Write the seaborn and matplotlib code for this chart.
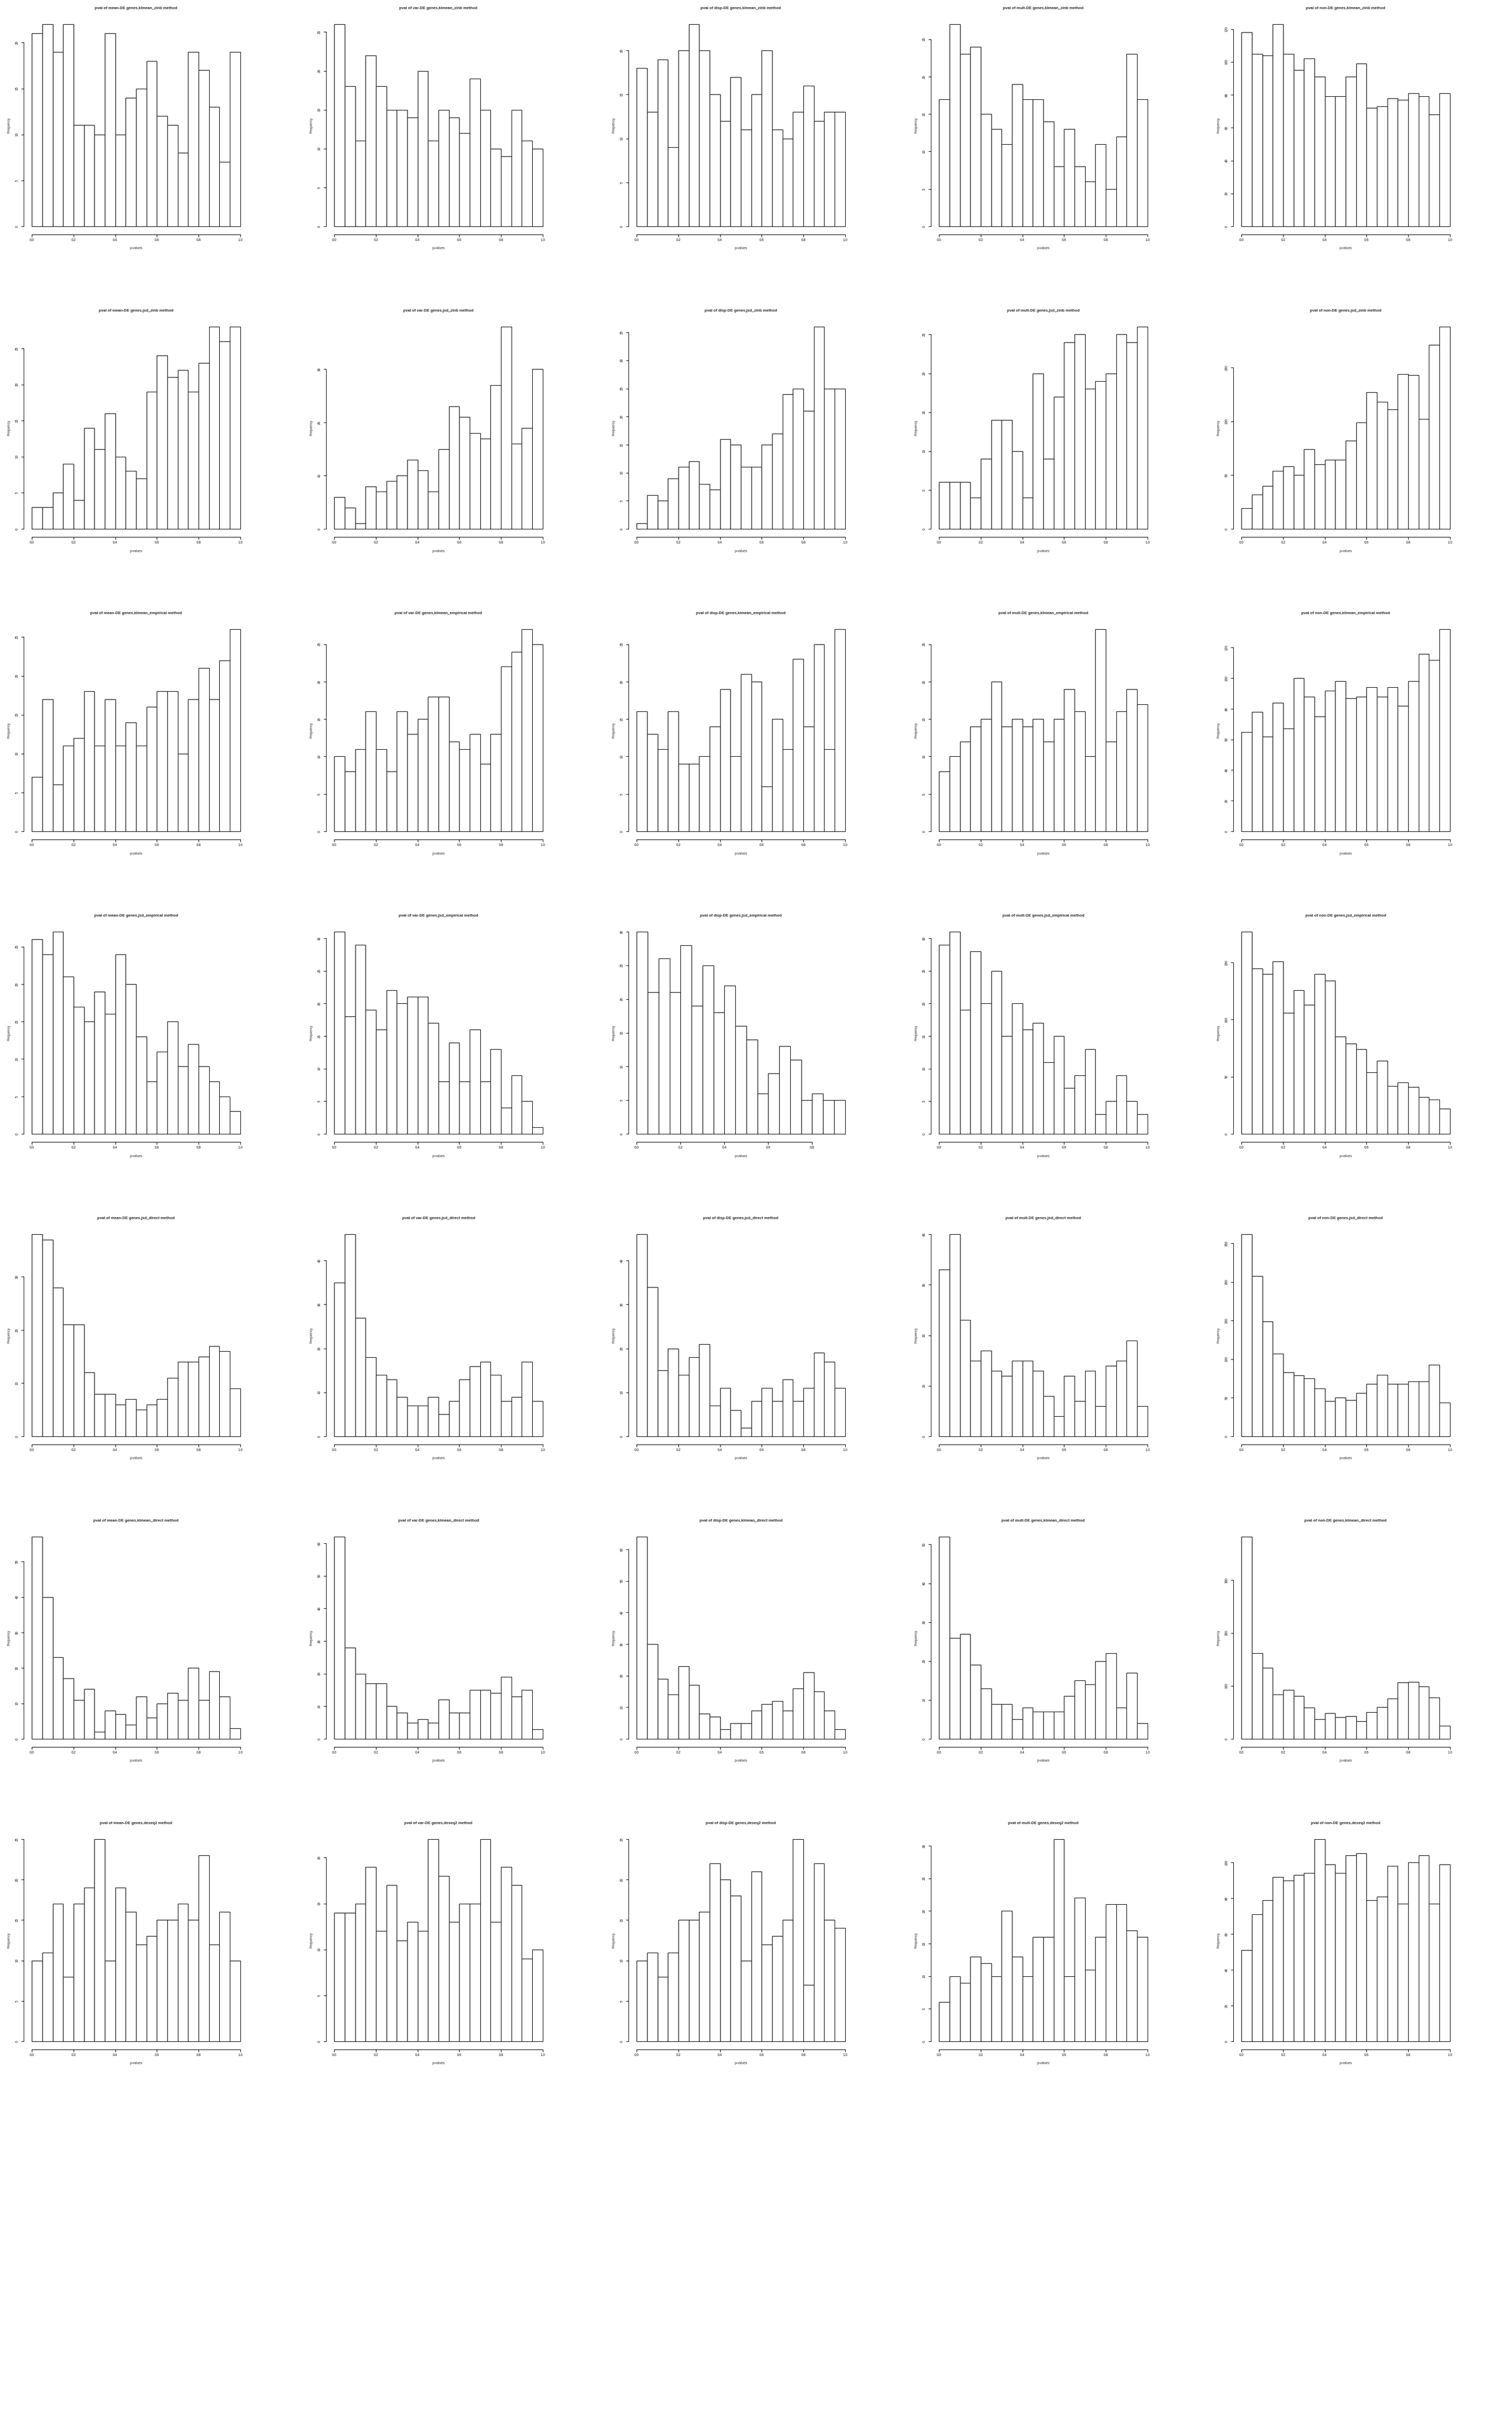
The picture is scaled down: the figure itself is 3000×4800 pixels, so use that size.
import numpy as np
import pandas as pd
import matplotlib
matplotlib.use("Agg")
import matplotlib.pyplot as plt
import seaborn as sns

sns.set_style("white")
plt.rcParams['font.family'] = ['Liberation Sans', 'DejaVu Sans']

# panel grid: rows = methods, columns = gene types
gene_types = ['mean', 'var', 'disp', 'mult', 'non']
methods = ['klmean_zinb', 'jsd_zinb', 'klmean_empirical', 'jsd_empirical',
           'jsd_direct', 'klmean_direct', 'deseq2']

# histogram counts per 0.05 p-value bin
klmean_zinb_mean = [21, 22, 19, 22, 11, 11, 10, 21, 10, 14, 15, 18, 12, 11, 8, 19, 17, 13, 7, 19]
klmean_zinb_var = [26, 18, 11, 22, 18, 15, 15, 14, 20, 11, 15, 14, 12, 19, 15, 10, 9, 15, 11, 10]
klmean_zinb_disp = [18, 13, 19, 9, 20, 23, 20, 15, 12, 17, 11, 15, 20, 11, 10, 13, 16, 12, 13, 13]
klmean_zinb_mult = [17, 27, 23, 24, 15, 13, 11, 19, 17, 17, 14, 8, 13, 8, 6, 11, 5, 12, 23, 17]
klmean_zinb_non = [118, 105, 104, 123, 105, 95, 102, 91, 79, 79, 91, 99, 72, 73, 78, 77, 81, 79, 68, 81]

jsd_zinb_mean = [3, 3, 5, 9, 4, 14, 11, 16, 10, 8, 7, 19, 24, 21, 22, 19, 23, 28, 26, 28]
jsd_zinb_var = [6, 4, 1, 8, 7, 9, 10, 13, 11, 7, 15, 23, 21, 18, 17, 27, 38, 16, 19, 30]
jsd_zinb_disp = [1, 6, 5, 9, 11, 12, 8, 7, 16, 15, 11, 11, 15, 17, 24, 25, 21, 36, 25, 25]
jsd_zinb_mult = [6, 6, 6, 4, 9, 14, 14, 10, 4, 20, 9, 17, 24, 25, 18, 19, 20, 25, 24, 26]
jsd_zinb_non = [19, 32, 40, 54, 58, 50, 74, 60, 64, 64, 82, 99, 127, 118, 111, 144, 143, 102, 171, 188]

klmean_empirical_mean = [7, 17, 6, 11, 12, 18, 11, 17, 11, 14, 11, 16, 18, 18, 10, 17, 21, 17, 22, 26]
klmean_empirical_var = [10, 8, 11, 16, 11, 8, 16, 13, 15, 18, 18, 12, 11, 13, 9, 13, 22, 24, 27, 25]
klmean_empirical_disp = [16, 13, 11, 16, 9, 9, 10, 14, 19, 10, 21, 20, 6, 15, 11, 23, 14, 25, 11, 27]
klmean_empirical_mult = [8, 10, 12, 14, 15, 20, 14, 15, 14, 15, 12, 15, 19, 16, 10, 27, 12, 16, 19, 17]
klmean_empirical_non = [65, 78, 62, 84, 67, 100, 88, 75, 92, 98, 87, 88, 94, 88, 94, 82, 98, 116, 112, 132]

jsd_empirical_mean = [26, 24, 27, 21, 17, 15, 19, 16, 24, 20, 13, 7, 11, 15, 9, 12, 9, 7, 5, 3]
jsd_empirical_var = [31, 18, 29, 19, 16, 22, 20, 21, 21, 17, 8, 14, 8, 16, 8, 13, 4, 9, 5, 1]
jsd_empirical_disp = [30, 21, 26, 21, 28, 19, 25, 18, 22, 16, 14, 6, 9, 13, 11, 5, 6, 5, 5]
jsd_empirical_mult = [29, 31, 19, 28, 20, 25, 15, 20, 16, 17, 11, 15, 7, 9, 13, 3, 5, 9, 5, 3]
jsd_empirical_non = [177, 145, 140, 151, 106, 126, 113, 140, 134, 85, 79, 74, 54, 64, 42, 45, 41, 32, 30, 22]

jsd_direct_mean = [38, 37, 28, 21, 21, 12, 8, 8, 6, 7, 5, 6, 7, 11, 14, 14, 15, 17, 16, 9]
jsd_direct_var = [35, 46, 27, 18, 14, 13, 9, 7, 7, 9, 5, 8, 13, 16, 17, 14, 8, 9, 17, 8]
jsd_direct_disp = [46, 34, 15, 20, 14, 18, 21, 7, 11, 6, 2, 8, 11, 8, 13, 8, 11, 19, 17, 11]
jsd_direct_mult = [33, 40, 23, 15, 17, 13, 12, 15, 15, 13, 8, 4, 12, 7, 13, 6, 14, 15, 19, 6]
jsd_direct_non = [262, 208, 149, 107, 83, 79, 75, 62, 46, 50, 47, 56, 68, 80, 68, 68, 71, 71, 93, 44]

klmean_direct_mean = [57, 40, 23, 17, 11, 14, 2, 8, 7, 4, 12, 6, 10, 13, 11, 20, 11, 19, 12, 3]
klmean_direct_var = [62, 28, 20, 17, 17, 10, 8, 5, 6, 5, 12, 8, 8, 15, 15, 14, 19, 13, 15, 3]
klmean_direct_disp = [64, 30, 19, 14, 23, 17, 8, 7, 3, 5, 5, 9, 11, 12, 9, 16, 21, 15, 9, 3]
klmean_direct_mult = [52, 26, 27, 19, 13, 9, 9, 5, 8, 7, 7, 7, 11, 15, 14, 20, 22, 8, 17, 4]
klmean_direct_non = [382, 162, 134, 84, 92, 81, 59, 37, 49, 41, 43, 33, 50, 60, 76, 107, 108, 99, 78, 25]

deseq2_mean = [10, 11, 17, 8, 17, 19, 25, 10, 19, 16, 12, 13, 15, 15, 17, 15, 23, 12, 16, 10]
deseq2_var = [14, 14, 15, 19, 12, 17, 11, 13, 12, 22, 18, 13, 15, 15, 22, 13, 19, 17, 9, 10]
deseq2_disp = [10, 11, 8, 11, 15, 15, 16, 22, 20, 18, 10, 21, 12, 13, 15, 25, 7, 22, 15, 14]
deseq2_mult = [6, 10, 9, 13, 12, 10, 20, 13, 10, 16, 16, 31, 10, 22, 11, 16, 21, 21, 17, 16]
deseq2_non = [51, 71, 79, 92, 90, 93, 94, 113, 99, 94, 104, 105, 79, 81, 98, 77, 100, 104, 77, 99]

counts = [
    [klmean_zinb_mean, klmean_zinb_var, klmean_zinb_disp, klmean_zinb_mult, klmean_zinb_non],
    [jsd_zinb_mean, jsd_zinb_var, jsd_zinb_disp, jsd_zinb_mult, jsd_zinb_non],
    [klmean_empirical_mean, klmean_empirical_var, klmean_empirical_disp, klmean_empirical_mult, klmean_empirical_non],
    [jsd_empirical_mean, jsd_empirical_var, jsd_empirical_disp, jsd_empirical_mult, jsd_empirical_non],
    [jsd_direct_mean, jsd_direct_var, jsd_direct_disp, jsd_direct_mult, jsd_direct_non],
    [klmean_direct_mean, klmean_direct_var, klmean_direct_disp, klmean_direct_mult, klmean_direct_non],
    [deseq2_mean, deseq2_var, deseq2_disp, deseq2_mult, deseq2_non],
]

# y tick spacing for each panel
y_steps = [
    [5, 5, 5, 5, 20],
    [5, 10, 5, 5, 50],
    [5, 5, 5, 5, 20],
    [5, 5, 5, 5, 50],
    [10, 10, 10, 10, 50],
    [10, 10, 10, 10, 100],
    [5, 5, 5, 5, 20],
]

W, H = 3000, 4800
CELL = 600


def fx(px):
    return px / W


def fy(py):
    return 1 - py / H


fig = plt.figure(figsize=(W / 100, H / 100), dpi=100)
fig.patch.set_facecolor('white')

for r, method in enumerate(methods):
    for c, gt in enumerate(gene_types):
        vals = np.array(counts[r][c])
        nb = len(vals)
        edges = np.round(np.arange(nb + 1) * 0.05, 2)
        df = pd.DataFrame({'p': edges[:-1] + 0.025, 'n': vals})
        x0, y0 = c * CELL, r * CELL

        ax = fig.add_axes([fx(x0 + 46.8), fy(y0 + 465), 446.4 / W, 433 / H])
        sns.histplot(data=df, x='p', weights='n', bins=list(edges), ax=ax,
                     color='white', edgecolor='black', linewidth=0.8, alpha=1)

        top = edges[-1]
        M = vals.max()
        ax.set_xlim(-0.04 * top, 1.04 * top)
        ax.set_ylim(-0.04 * M, 1.04 * M)
        xt = np.round(np.arange(0, top + 1e-9, 0.2), 1)
        yt = np.arange(0, M + 1e-9, y_steps[r][c])
        ax.set_xticks(xt)
        ax.set_xticklabels([f'{v:.1f}' for v in xt])
        ax.set_yticks(yt)
        ax.set_yticklabels([str(int(v)) for v in yt], rotation=90, va='center')
        ax.tick_params(axis='both', length=3.6, width=0.75, direction='out',
                       labelsize=4.7, colors='black', bottom=True, left=True)
        ax.tick_params(axis='x', pad=2.2)
        ax.tick_params(axis='y', pad=2.8)
        for s in ['top', 'right']:
            ax.spines[s].set_visible(False)
        for s in ['left', 'bottom']:
            ax.spines[s].set_linewidth(0.75)
            ax.spines[s].set_color('black')
        ax.spines['left'].set_bounds(0, yt[-1])
        ax.spines['bottom'].set_bounds(0, xt[-1])
        ax.set_xlabel('')
        ax.set_ylabel('')
        ax.patch.set_alpha(0)

        fig.text(fx(x0 + 270), fy(y0 + 17),
                 f'pval of {gt}-DE genes,{method} method',
                 ha='center', va='center', fontsize=5.6, fontweight='bold')
        fig.text(fx(x0 + 270), fy(y0 + 493), 'p-values',
                 ha='center', va='center', fontsize=4.8)
        fig.text(fx(x0 + 18), fy(y0 + 248.5), 'Frequency',
                 ha='center', va='center', fontsize=4.8, rotation=90)

fig.savefig('out.png', dpi=100, facecolor='white')
